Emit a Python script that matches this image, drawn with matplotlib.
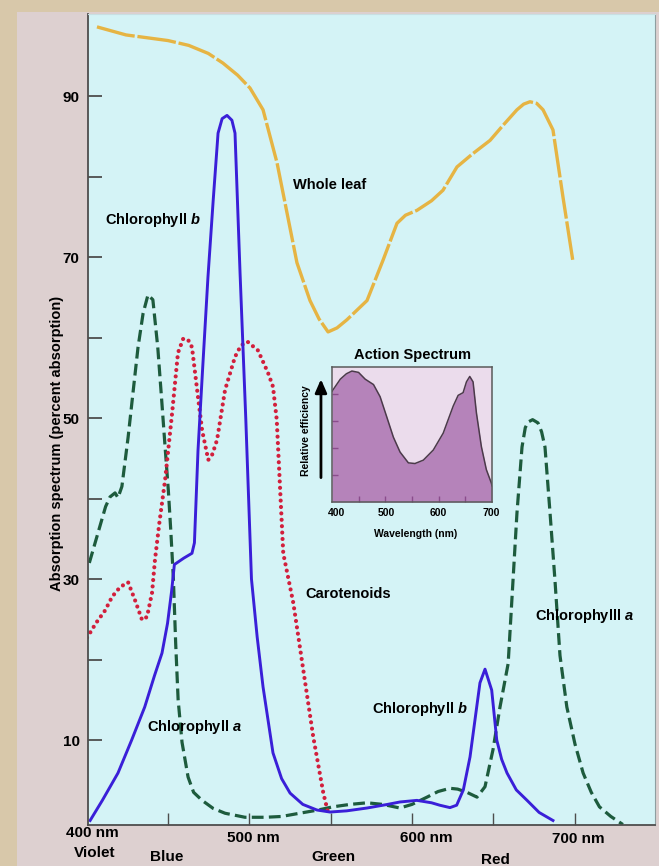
import matplotlib.pyplot as plt
from matplotlib.patches import Rectangle

plt.rcParams['font.family'] = ['Liberation Sans', 'DejaVu Sans']
plt.rcParams['font.weight'] = 'bold'
plt.rcParams['mathtext.fontset'] = 'custom'
plt.rcParams['mathtext.it'] = 'Liberation Sans:italic:bold'
plt.rcParams['mathtext.rm'] = 'Liberation Sans:bold'
plt.rcParams['lines.scale_dashes'] = False

# absorption curves (wavelength nm, percent absorption)
leaf_nm = [406.7, 424.5, 450.3, 463, 475, 484, 493, 500.6, 508.6, 517.2, 523.3, 529.4,
           537.4, 543, 548.5, 554, 560, 572.4, 582.2, 590.8, 596, 603, 612, 619, 627.6,
           637, 647.9, 656, 664.4, 668.5, 672.4, 676.5, 680.4, 686.5, 692.6, 698.8]
leaf_abs = [98.6, 97.6, 96.9, 96.3, 95.3, 94.1, 92.6, 91.0, 88.3, 81.7, 75.5, 69.3,
            64.6, 62.3, 60.7, 61.2, 62.2, 64.6, 69.6, 74.2, 75.2, 75.8, 77.0, 78.3, 81.2,
            82.8, 84.5, 86.4, 88.3, 89.0, 89.3, 89.1, 88.3, 85.8, 77.5, 69.4]

chlb_nm = [402.5, 410, 419.6, 428, 436, 442, 446.6, 450, 452.5, 454.2, 460, 465, 466.5,
           468.7, 471.5, 474.8, 478, 481, 483.5, 486.5, 489.5, 491.4, 494.5, 498, 501.5,
           505, 508.6, 514.7, 520, 525.2, 533, 541.7, 549.7, 560, 572.4, 585, 592.6, 603,
           612, 617, 623.3, 627.4, 631.5, 635.6, 639.7, 641.7, 644.8, 648.9, 652, 655,
           658.3, 664, 670.6, 678, 686.5]
chlb_abs = [0, 2.5, 5.9, 10, 14.1, 18, 20.8, 24.5, 28.5, 31.8, 32.6, 33.2, 34.5,
            46, 56, 67.5, 77, 85.4, 87.2, 87.6, 87.0, 85.4, 68, 50, 30,
            22.8, 16.6, 8.4, 5.2, 3.4, 2.0, 1.3, 1.05, 1.2, 1.55, 2.0, 2.3, 2.5,
            2.2, 1.9, 1.6, 1.9, 3.8, 7.9, 14.1, 17.1, 18.8, 16.2, 10, 7.6,
            5.9, 3.8, 2.5, 1.0, 0]

chla_nm = [402, 407, 412, 414.7, 417.8, 419.6, 422, 425.8, 429, 431.9, 435, 438, 441,
           444, 446.5, 448.5, 450.5, 452, 453.6, 455, 456.5, 458.9, 462.6, 466, 471.2,
           478, 485.3, 497.5, 510, 520, 531, 542.3, 551.5, 562, 572.4, 582, 592.6, 600,
           609.2, 616, 623.3, 628, 633.7, 639.9, 644.8, 649.7, 654, 659, 662, 664.4,
           667.5, 669.5, 671.2, 674, 677.3, 679.5, 681.6, 684.7, 687.7, 690.8, 695, 700,
           705, 710, 715, 722, 729.4]
chla_abs = [32, 35.5, 39, 40.2, 40.7, 40.1, 41.5, 47.6, 53.5, 58.8, 63, 65.3, 64.7,
            58.8, 52, 46.4, 41, 36, 30, 22, 15, 9.7, 5.4, 3.5, 2.5,
            1.5, 0.9, 0.4, 0.4, 0.5, 0.9, 1.3, 1.7, 2.0, 2.2, 2.0, 1.55, 2.0,
            2.9, 3.6, 4.0, 3.9, 3.5, 2.9, 4.2, 8.8, 14.1, 19.5, 29.9, 38.2,
            46.4, 48.8, 49.5, 49.8, 49.4, 48.3, 46.4, 38.2, 29.9, 20.5, 14.1, 9.5,
            5.9, 3.5, 1.7, 0.5, -0.5]

car_nm = [400.6, 406, 411.7, 416, 420.9, 425.8, 430, 434.4, 437.4, 440.5, 442.3, 445,
          448.5, 452.8, 456.4, 459.7, 463, 465, 468.7, 471.2, 475, 477.5, 480.4, 485.3,
          491.4, 495, 499, 505.5, 511.7, 514.7, 517, 519, 521, 527.2, 533.3, 539.4,
          545.6, 548.6]
car_abs = [22.7, 24.5, 26.1, 27.8, 29, 29.6, 27.4, 24.9, 25.3, 28.3, 32.4, 37,
           42.3, 50.6, 58.1, 59.9, 59.6, 58.8, 52.6, 48.5, 44.8, 45.5, 47.3, 53.5,
           57.6, 59.0, 59.5, 58.4, 55.6, 53.9, 49.8, 41.5, 33.2, 27, 18.7, 10.4,
           3.4, 0.9]

# action spectrum inset (relative efficiency, 0..1)
act_nm = [400, 415.6, 427, 437.3, 449.8, 462.2, 477.8, 490.2, 502.7, 515.1, 527.6, 543.2,
          555.6, 571.2, 589.9, 608.5, 627.2, 636.5, 645.8, 652.1, 658.3, 664.5, 670.8,
          680.1, 689.4, 698.8, 700]
act_eff = [0.82, 0.91, 0.95, 0.97, 0.96, 0.91, 0.87, 0.78, 0.63, 0.48, 0.37, 0.29,
           0.285, 0.31, 0.385, 0.51, 0.71, 0.79, 0.81, 0.89, 0.93, 0.89, 0.66,
           0.41, 0.24, 0.14, 0.12]

y_ticks = [10, 20, 30, 40, 50, 60, 70, 80, 90]
y_labels = ['10', '', '30', '', '50', '', '70', '', '90']
nm_labels = ['400 nm', '500 nm', '600 nm', '700 nm']
color_labels = ['Violet', 'Blue', 'Green', 'Red']

W, H = 659, 866
fig = plt.figure(figsize=(W / 100, H / 100), dpi=100)
fig.patch.set_facecolor('#d8c8aa')
fig.patches.append(Rectangle((17 / W, 0), 1, (H - 12) / H, transform=fig.transFigure,
                             facecolor='#ddd0d0', edgecolor='none', zorder=-1))

ax = fig.add_axes([88 / W, 41 / H, 567 / W, 811 / H])
ax.set_facecolor('#d4f3f6')
ax.set_xlim(401.2, 749.1)
ax.set_ylim(-0.56, 100.2)

ax.plot(leaf_nm, leaf_abs, color='#e6b443', lw=2.4, dashes=(28, 2))
ax.plot(chla_nm, chla_abs, color='#1d5b3d', lw=2.3, dashes=(8.5, 3.8))
ax.plot(car_nm, car_abs, color='#d21f3c', lw=3.0, dashes=(0.01, 4.6),
        dash_capstyle='round')
ax.plot(chlb_nm, chlb_abs, color='#3a1fd8', lw=2.1)

for s in ['left', 'bottom']:
    ax.spines[s].set_color('#4d4d4d')
    ax.spines[s].set_linewidth(1.3)
ax.spines['top'].set_color('#c9dfe2')
ax.spines['right'].set_color('#8e9ea0')

ax.set_yticks(y_ticks)
ax.set_yticklabels(y_labels, fontsize=11, fontweight='bold')
ax.tick_params(axis='y', direction='in', length=10, width=1.3, color='#4d4d4d', pad=6)
ax.set_xticks([450, 500, 550, 600, 650, 700])
ax.set_xticklabels([])
ax.tick_params(axis='x', direction='in', length=9, width=1, color='#4d4d4d')
ax.set_ylabel('Absorption spectrum (percent absorption)', fontsize=10.5,
              fontweight='bold')
ax.yaxis.set_label_coords(-0.042, 0.471)

tr = ax.get_xaxis_transform()
for x, y, s in zip([404, 502.5, 608.5, 701.8], [-0.01, -0.016, -0.016, -0.017], nm_labels):
    ax.text(x, y, s, transform=tr, ha='center', va='center', fontsize=11)
for x, y, s in zip([405, 449.7, 551.5, 651.5], [-0.035, -0.039, -0.039, -0.043], color_labels):
    ax.text(x, y, s, transform=tr, ha='center', va='center', fontsize=11)

for px, py, s in [(105, 220, 'Chlorophyll $b$'), (305, 594, 'Carotenoids'),
                  (147, 727, 'Chlorophyll $a$'), (372, 709, 'Chlorophyll $b$'),
                  (535, 616, 'Chlorophylll $a$'), (293, 185, 'Whole leaf')]:
    ax.text(px / W, 1 - py / H, s, transform=fig.transFigure, fontsize=10.5, va='center')

# inset: action spectrum
ins = fig.add_axes([332 / W, (H - 502) / H, 160 / W, 135 / H])
ins.set_facecolor('#ebdcec')
ins.set_xlim(400, 700)
ins.set_ylim(0, 1)
ins.fill_between(act_nm, act_eff, 0, color='#b583ba', lw=0)
ins.plot(act_nm, act_eff, color='#4b3a4a', lw=1.1)
for s in ins.spines.values():
    s.set_color('#5a5a5a')
    s.set_linewidth(1.1)
ins.set_xticks([450, 500, 550, 600, 650])
ins.set_xticklabels([])
ins.set_yticks([0.2, 0.4, 0.6, 0.8])
ins.set_yticklabels([])
ins.tick_params(direction='in', length=4, width=1, color='#8a4c8c')
for x, s in zip([409, 501, 600, 698], ['400', '500', '600', '700']):
    ins.text(x, -0.08, s, transform=ins.get_xaxis_transform(), ha='center', va='center',
             fontsize=7.5)
ins.text(0.52, -0.235, 'Wavelength (nm)', transform=ins.transAxes, ha='center',
         va='center', fontsize=7.5)
ins.set_title('Action Spectrum', fontsize=10.5, fontweight='bold', pad=6)
ins.text(-0.165, 0.53, 'Relative efficiency', transform=ins.transAxes, rotation=90,
         ha='center', va='center', fontsize=7.5)
ins.annotate('', xy=(-0.069, 0.93), xytext=(-0.069, 0.16), xycoords='axes fraction',
             arrowprops=dict(arrowstyle='-|>,head_width=0.35,head_length=0.8',
                             color='black', lw=2))

fig.savefig('out.png', dpi=100, facecolor=fig.get_facecolor())
